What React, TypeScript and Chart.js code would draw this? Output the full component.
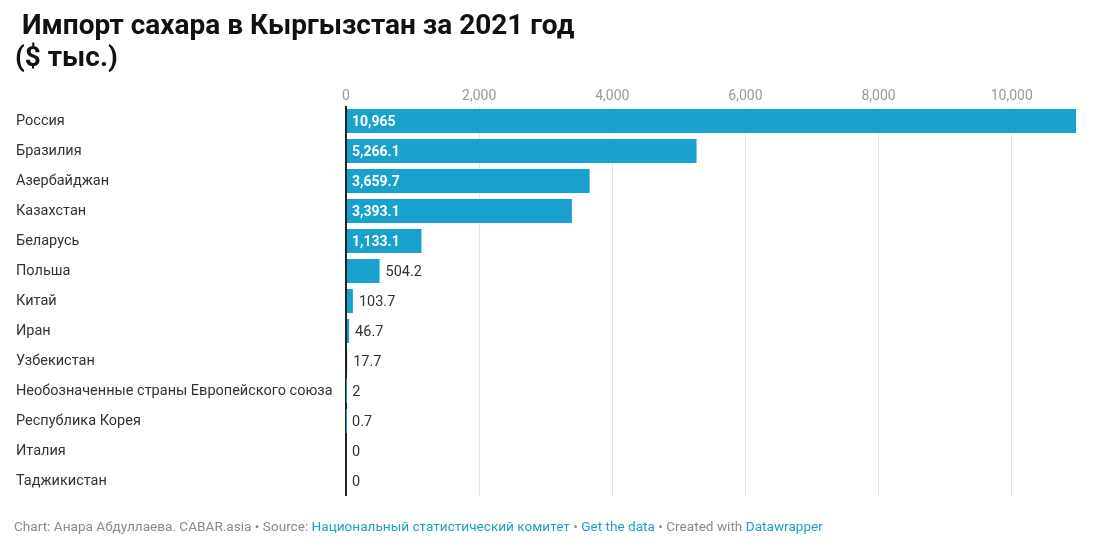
import React, { useEffect, useRef } from "react";
import { Chart, registerables } from "chart.js";

Chart.register(...registerables);

const countries = [
  "Россия",
  "Бразилия",
  "Азербайджан",
  "Казахстан",
  "Беларусь",
  "Польша",
  "Китай",
  "Иран",
  "Узбекистан",
  "Необозначенные страны Европейского союза",
  "Республика Корея",
  "Италия",
  "Таджикистан",
];

const importValues = [10965, 5266.1, 3659.7, 3393.1, 1133.1, 504.2, 103.7, 46.7, 17.7, 2, 0.7, 0, 0];

const axisMax = 10965;
const tickValues = [0, 2000, 4000, 6000, 8000, 10000];

const BAR_COLOR = "#18a1cd";
const FONT = "Roboto, 'Noto Sans', sans-serif";

const fmt = (v: number) => v.toLocaleString("en-US", { maximumFractionDigits: 1 });

const valueLabels = {
  id: "valueLabels",
  afterDatasetsDraw(chart: any) {
    const ctx = chart.ctx;
    const meta = chart.getDatasetMeta(0);
    const data = chart.data.datasets[0].data as number[];
    meta.data.forEach((bar: any, i: number) => {
      const text = fmt(data[i]);
      const left = Math.min(bar.base, bar.x);
      const width = Math.abs(bar.x - bar.base);
      ctx.save();
      ctx.textBaseline = "middle";
      ctx.textAlign = "left";
      ctx.font = `bold 14px ${FONT}`;
      const tw = ctx.measureText(text).width;
      if (width > tw + 12) {
        ctx.fillStyle = "#ffffff";
        ctx.fillText(text, left + 5, bar.y + 1);
      } else {
        ctx.font = `14.5px ${FONT}`;
        ctx.fillStyle = "#333333";
        ctx.fillText(text, Math.max(bar.x + 6, left + 6), bar.y + 1);
      }
      ctx.restore();
    });
  },
};

function BarChart() {
  const ref = useRef<HTMLCanvasElement | null>(null);
  useEffect(() => {
    if (!ref.current) return;
    const chart = new Chart(ref.current, {
      type: "bar",
      data: {
        labels: countries,
        datasets: [
          {
            data: importValues,
            backgroundColor: BAR_COLOR,
            borderWidth: 0,
            categoryPercentage: 1,
            barPercentage: 0.8,
          },
        ],
      },
      options: {
        indexAxis: "y",
        animation: false,
        responsive: false,
        maintainAspectRatio: false,
        layout: { padding: { left: 16, right: 31, top: 0, bottom: 59 } },
        plugins: {
          legend: { display: false },
          tooltip: { enabled: false },
          title: { display: false },
        },
        scales: {
          x: {
            position: "top",
            min: 0,
            max: axisMax,
            afterFit: (s: any) => {
              s.height = 106;
            },
            afterBuildTicks: (s: any) => {
              s.ticks = tickValues.map((v) => ({ value: v }));
            },
            border: { display: false },
            grid: {
              drawTicks: false,
              color: (c: any) => (c.tick && c.tick.value === 0 ? "#222222" : "#e5e5e5"),
              lineWidth: (c: any) => (c.tick && c.tick.value === 0 ? 2 : 1),
            },
            ticks: {
              padding: 1,
              color: "#9a9a9a",
              font: { family: FONT, size: 14 },
              callback: (v: any) => fmt(Number(v)),
            },
          },
          y: {
            afterFit: (s: any) => {
              s.width = 330;
            },
            border: { display: false },
            grid: { display: false },
            ticks: {
              crossAlign: "far",
              autoSkip: false,
              color: "#333333",
              font: { family: FONT, size: 14.5 },
            },
          },
        },
      },
      plugins: [valueLabels],
    } as any);
    return () => chart.destroy();
  }, []);
  return (
    <canvas
      ref={ref}
      width={1107}
      height={555}
      style={{ position: "absolute", left: 0, top: 0, width: 1107, height: 555 }}
    />
  );
}

export default function App() {
  const linkStyle = { color: "#1d9fcb" };
  return (
    <div
      style={{
        position: "absolute",
        left: 0,
        top: 0,
        width: 1107,
        height: 555,
        overflow: "hidden",
        background: "#ffffff",
        fontFamily: FONT,
      }}
    >
      <BarChart />
      <div
        style={{
          position: "absolute",
          left: 15,
          top: 9,
          fontSize: 28,
          fontWeight: 700,
          lineHeight: "32px",
          color: "#111111",
          whiteSpace: "pre",
        }}
      >
        {" Импорт сахара в Кыргызстан за 2021 год\n($ тыс.)"}
      </div>
      <div
        style={{
          position: "absolute",
          left: 14,
          top: 518,
          fontSize: 13.6,
          color: "#8a8a8a",
          whiteSpace: "nowrap",
        }}
      >
        Chart: Анара Абдуллаева. CABAR.asia • Source: <span style={linkStyle}>Национальный статистический комитет</span> •{" "}
        <span style={linkStyle}>Get the data</span> • Created with <span style={linkStyle}>Datawrapper</span>
      </div>
    </div>
  );
}
